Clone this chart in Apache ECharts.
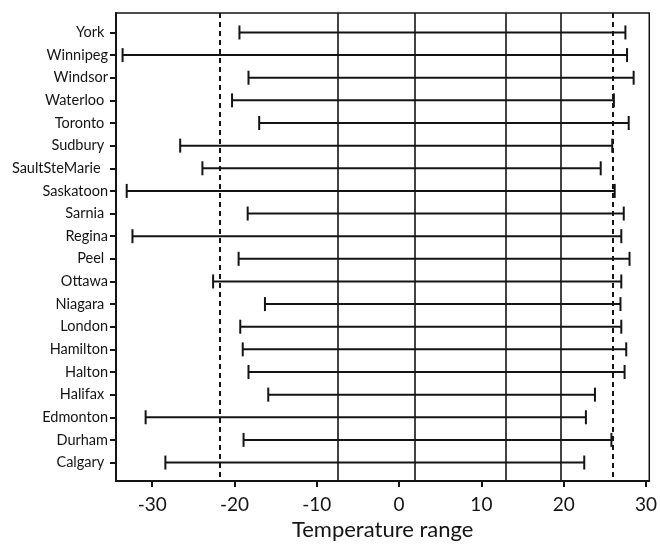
<!DOCTYPE html>
<html>
<head>
<meta charset="utf-8">
<script src="https://cdn.jsdelivr.net/npm/echarts@6/dist/echarts.min.js"></script>
<style>
html,body{margin:0;padding:0;background:#fff;}
#chart{width:660px;height:546px;}
</style>
</head>
<body>
<div id="chart"></div>
<script>
// Categories, top to bottom
const cities = ['York ', 'Winnipeg', 'Windsor', 'Waterloo ', 'Toronto ', 'Sudbury ', 'SaultSteMarie  ', 'Saskatoon', 'Sarnia ', 'Regina', 'Peel ', 'Ottawa', 'Niagara ', 'London', 'Hamilton', 'Halton', 'Halifax ', 'Edmonton', 'Durham', 'Calgary '];
const minTemps = [-19.4, -33.6, -18.3, -20.3, -17.0, -26.6, -23.9, -33.1, -18.4, -32.4, -19.5, -22.6, -16.3, -19.3, -19.0, -18.3, -15.9, -30.8, -18.9, -28.4];
const maxTemps = [27.5, 27.7, 28.5, 26.1, 27.9, 25.9, 24.5, 26.2, 27.3, 27.0, 28.0, 27.0, 26.9, 27.0, 27.6, 27.4, 23.8, 22.7, 25.8, 22.5];
// Reference lines
const dashedLines = [-21.8, 26.0];
const solidLines = [-7.4, 1.9, 13.0, 19.6];
const xTicks = [-30, -20, -10, 0, 10, 20, 30];

const rowIdx = cities.map((c, i) => i);
const rangeData = cities.map((c, i) => [i, minTemps[i], maxTemps[i]]);

const chart = echarts.init(document.getElementById('chart'), null, {renderer: 'canvas'});
const ink = '#141414';
const font = 'Lato';

const markData = dashedLines.map(v => ({xAxis: v, lineStyle: {type: [5, 4], width: 2, color: ink}}))
  .concat(solidLines.map(v => ({xAxis: v, lineStyle: {type: 'solid', width: 1.6, color: ink}})));

chart.setOption({
  animation: false,
  backgroundColor: '#fff',
  grid: {left: 116, right: 10, top: 13, bottom: 63, show: true, borderColor: ink, borderWidth: 1.5, backgroundColor: 'transparent'},
  xAxis: {
    type: 'value', min: -34.4, max: 30.4,
    name: 'Temperature range', nameLocation: 'middle', nameGap: 37,
    nameTextStyle: {fontFamily: font, fontSize: 22, color: ink},
    axisLine: {show: true, onZero: false, lineStyle: {color: ink, width: 2}},
    axisTick: {show: true, customValues: xTicks, length: 6, lineStyle: {color: ink, width: 2}},
    axisLabel: {customValues: xTicks, fontFamily: font, fontSize: 19, color: ink, margin: 14},
    splitLine: {show: false}
  },
  yAxis: {
    type: 'value', inverse: true, min: -0.86, max: 19.82,
    axisLine: {show: true, onZero: false, lineStyle: {color: ink, width: 2}},
    axisTick: {show: true, customValues: rowIdx, length: 6, lineStyle: {color: ink, width: 2}},
    axisLabel: {customValues: rowIdx, formatter: v => cities[v], fontFamily: font, fontSize: 14.5, color: ink, margin: 8},
    splitLine: {show: false}
  },
  series: [{
    type: 'custom',
    data: rangeData,
    encode: {x: [1, 2], y: 0},
    renderItem: function (params, api) {
      const y = api.value(0);
      const a = api.coord([api.value(1), y]);
      const b = api.coord([api.value(2), y]);
      const h = 7;
      const style = {stroke: ink, lineWidth: 2};
      return {
        type: 'group',
        children: [
          {type: 'line', shape: {x1: a[0], y1: a[1], x2: b[0], y2: b[1]}, style: style},
          {type: 'line', shape: {x1: a[0], y1: a[1] - h, x2: a[0], y2: a[1] + h}, style: style},
          {type: 'line', shape: {x1: b[0], y1: b[1] - h, x2: b[0], y2: b[1] + h}, style: style}
        ]
      };
    },
    markLine: {
      silent: true, symbol: 'none', label: {show: false},
      data: markData
    }
  }]
});
</script>
</body>
</html>
